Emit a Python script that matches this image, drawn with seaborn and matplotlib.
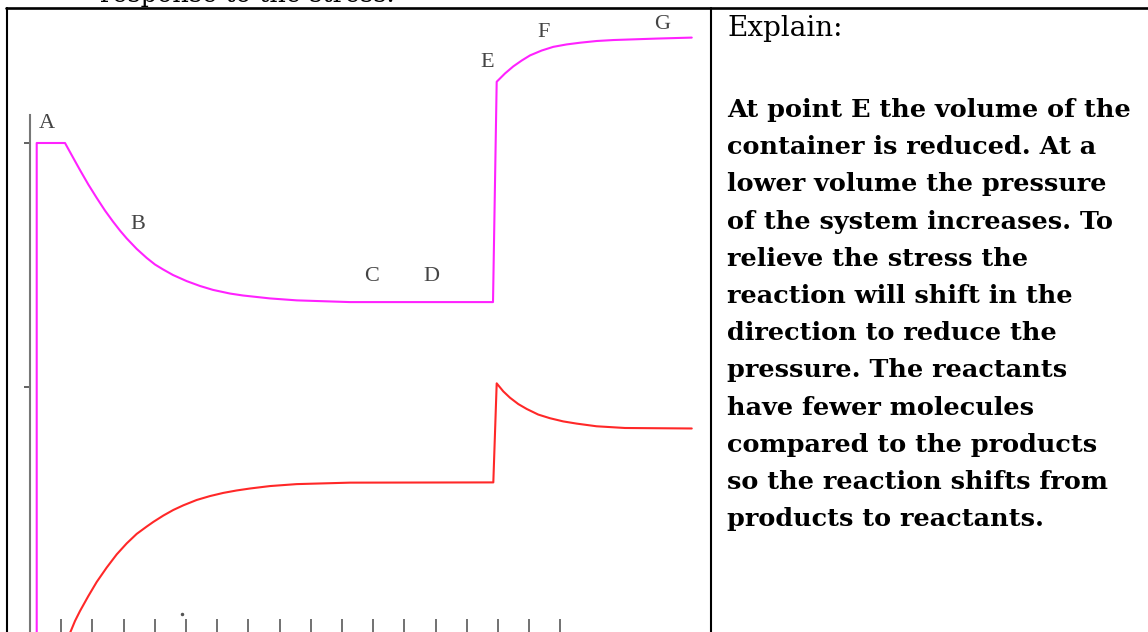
import matplotlib
matplotlib.use("Agg")
import matplotlib.pyplot as plt
import seaborn as sns

sns.set_theme(style="white")
plt.rcParams['font.family'] = ['DejaVu Serif']

# curve data (time units, concentration units)
mag_x = [0.215, 0.215, 1.122, 1.282, 1.442, 1.603, 1.869, 2.138, 2.404, 2.660, 2.885, 3.099,
         3.420, 3.740, 4.006, 4.263, 4.583, 5.022, 5.449, 5.865, 6.410, 6.827, 7.692, 8.558,
         10.256, 14.84, 14.958, 15.224, 15.49, 15.76, 16.026, 16.40, 16.77, 17.20, 17.63,
         18.16, 18.70, 20.09, 21.21]
mag_y = [-0.02, 2.0, 2.0, 1.963, 1.926, 1.889, 1.830, 1.775, 1.723, 1.678, 1.641, 1.609,
         1.566, 1.529, 1.502, 1.482, 1.459, 1.434, 1.414, 1.398, 1.383, 1.375, 1.363, 1.355,
         1.348, 1.348, 2.251, 2.285, 2.314, 2.338, 2.359, 2.379, 2.394, 2.404, 2.411,
         2.418, 2.422, 2.428, 2.432]

red_x = [1.27, 1.442, 1.603, 1.869, 2.138, 2.458, 2.779, 3.099, 3.420, 3.740, 3.952, 4.272,
         4.593, 4.913, 5.343, 5.769, 6.196, 6.625, 7.051, 7.692, 8.548, 10.256, 14.85,
         14.958, 15.17, 15.385, 15.651, 15.92, 16.29, 16.667, 17.09, 17.52, 18.16, 19.07, 21.21]
red_y = [-0.012, 0.041, 0.082, 0.143, 0.201, 0.260, 0.314, 0.359, 0.398, 0.428, 0.447, 0.473,
         0.496, 0.515, 0.537, 0.553, 0.566, 0.576, 0.584, 0.594, 0.602, 0.608, 0.609,
         1.015, 0.982, 0.956, 0.930, 0.910, 0.887, 0.872, 0.859, 0.850, 0.839, 0.832, 0.830]

point_labels = ["A", "B", "C", "D", "E", "F", "G"]
label_x = [0.545, 3.45, 10.96, 12.88, 14.65, 16.47, 20.26]
label_y = [2.078, 1.664, 1.451, 1.451, 2.330, 2.451, 2.484]

x_ticks = list(range(1, 18))
y_ticks = [1, 2]

explain_head = "Explain:"
explain_lines = [
    "At point E the volume of the",
    "container is reduced. At a",
    "lower volume the pressure",
    "of the system increases. To",
    "relieve the stress the",
    "reaction will shift in the",
    "direction to reduce the",
    "pressure. The reactants",
    "have fewer molecules",
    "compared to the products",
    "so the reaction shifts from",
    "products to reactants.",
]
top_text = "response to the stress."

W, H = 1148, 632
fig = plt.figure(figsize=(W / 100, H / 100), dpi=100)
renderer = fig.canvas.get_renderer()


def fx(x):
    return x / W


def fy(y):
    return 1 - y / H


def fit_size(txt, width_px, **kw):
    t = fig.text(0, 0, txt, fontsize=10, **kw)
    w = t.get_window_extent(renderer).width
    t.remove()
    return 10 * width_px / w


# chart area, same pixel geometry as the reference
ax = fig.add_axes([fx(30), fy(634), fx(705) - fx(30), fy(8) - fy(634)])
ax.set_facecolor("none")
sns.lineplot(x=mag_x, y=mag_y, sort=False, estimator=None, color="#ff22ff", lw=1.5, ax=ax)
sns.lineplot(x=red_x, y=red_y, sort=False, estimator=None, color="#ff2828", lw=1.5, ax=ax)
ax.plot([4.87], [0.069], marker="o", ms=1.5, color="#555555")

for lab, lx, ly in zip(point_labels, label_x, label_y):
    ax.text(lx, ly, lab, ha="center", va="center", fontsize=16, color="#444444",
            family="Liberation Serif")

ax.set_xlim(0, 675 / 31.2)
ax.set_ylim(-3 / 244, 623 / 244)
ax.set_xticks(x_ticks)
ax.set_yticks(y_ticks)
ax.set_xticklabels([])
ax.set_yticklabels([])
ax.tick_params(axis="x", direction="in", length=11, width=1.3, color="#666666", bottom=True)
ax.tick_params(axis="y", direction="out", length=4.5, width=1.3, color="#555555", left=True)
for s in ["top", "right", "bottom"]:
    ax.spines[s].set_visible(False)
ax.spines["left"].set_color("#777777")
ax.spines["left"].set_linewidth(1.5)
ax.spines["left"].set_bounds(-3 / 244, 516 / 244)

# table borders
for (x0, y0, x1, y1, lw) in [(6, 8, W, 8, 1.9), (7, 8, 7, H, 1.5), (711, 8, 711, H, 1.5)]:
    fig.add_artist(plt.Line2D([fx(x0), fx(x1)], [fy(y0), fy(y1)], transform=fig.transFigure,
                              color="black", lw=lw))

# text cell
s_head = fit_size(explain_head, 116)
fig.text(fx(727), fy(36), explain_head, fontsize=s_head, va="baseline", color="black")
s_body = fit_size(explain_lines[0], 403, fontweight="bold")
for i, line in enumerate(explain_lines):
    fig.text(fx(727), fy(117 + 37.2 * i), line, fontsize=s_body, fontweight="bold",
             va="baseline", color="black")

s_top = fit_size(top_text, 295)
fig.text(fx(100), fy(2), top_text, fontsize=s_top, va="baseline", color="black")

fig.savefig("out.png", dpi=100)
